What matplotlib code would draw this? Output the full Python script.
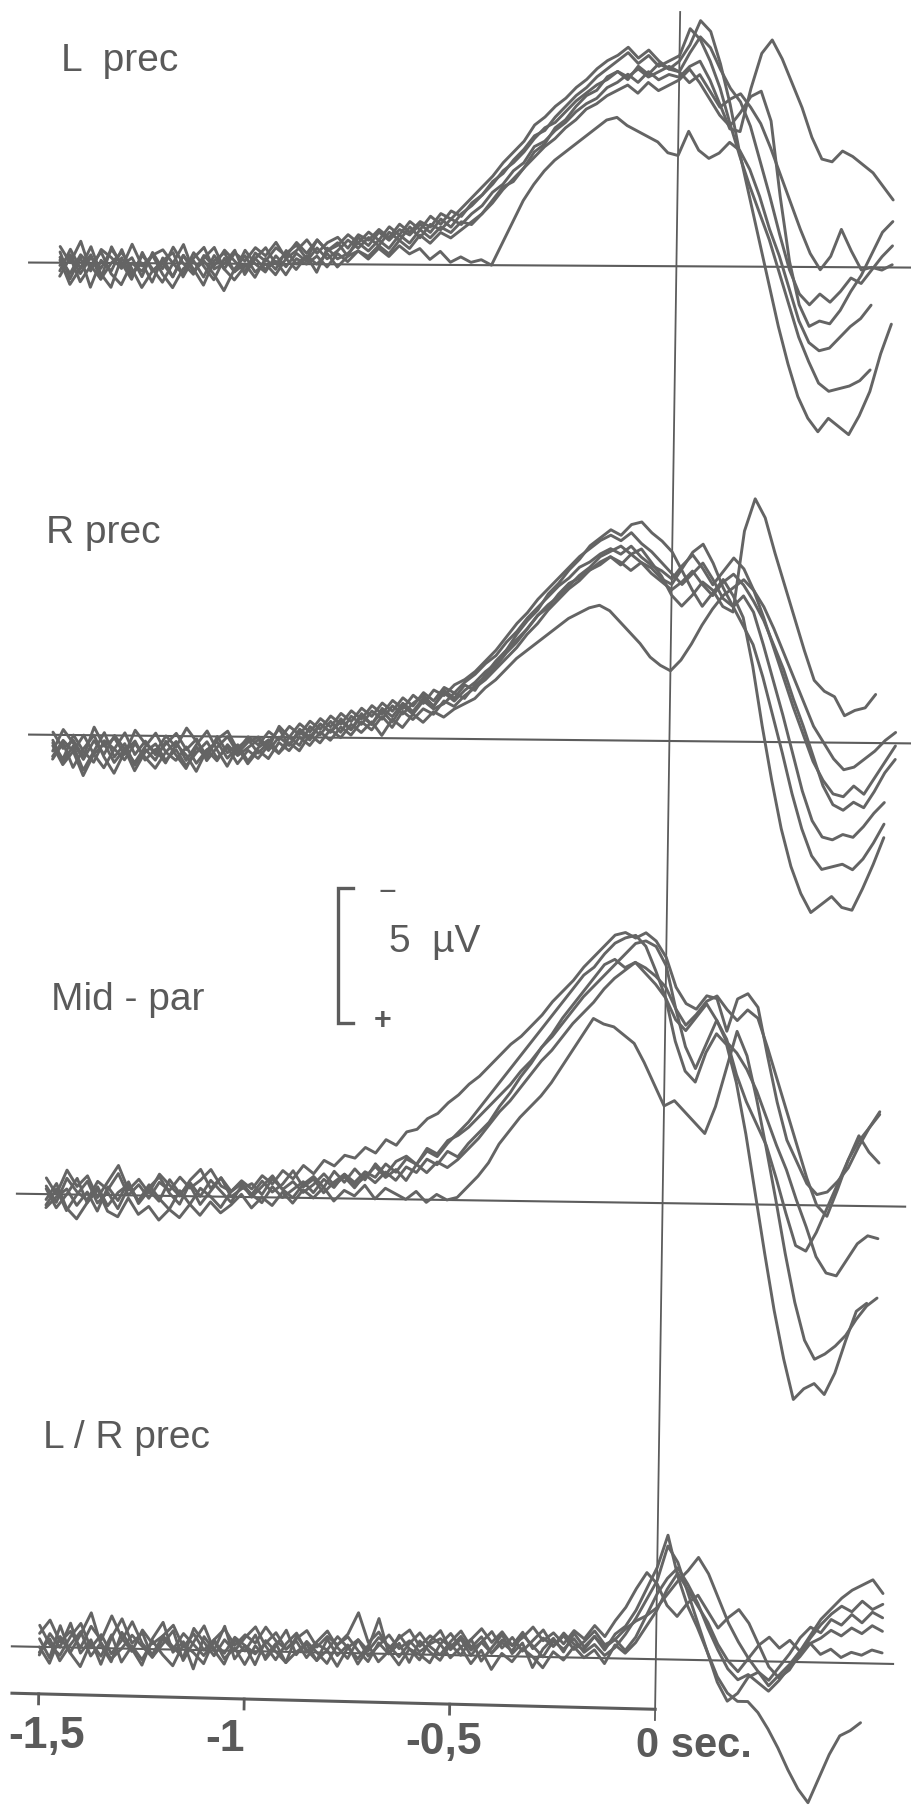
import numpy as np
import matplotlib
matplotlib.use("Agg")
import matplotlib.pyplot as plt
from matplotlib.transforms import Affine2D

# ---------------- data (µV, negativity drawn upward; one sample every 25 ms from -1.5 s) ----------------
panel_names = ["L  prec", "R prec", "Mid - par", "L / R prec"]
t_start = -1.5
t_step = 0.025
tick_values = [-1.5, -1.0, -0.5]
tick_labels = ["-1,5", "-1", "-0,5"]
zero_label = "0 sec."
scale_uv = 5
scale_label = "5  µV"

l_prec = [
    [0.4, -0.6, 0.2, -0.9, 0.1, -0.3, 0.5, -0.4, 0.0, -0.7,
     0.2, -0.5, 0.3, -0.2, -0.8, 0.1, 0.4, -0.3, 0.0, -0.5,
     0.2, -0.2, 0.5, 0.0, 0.3, -0.3, 0.6, 0.2, 0.4, 0.8,
     0.5, 0.9, 0.6, 1.1, 0.8, 1.3, 1.0, 1.4, 1.2, 1.6,
     1.5, 1.9, 2.4, 2.9, 3.1, 3.6, 4.2, 4.5, 5.1, 5.4,
     5.9, 6.3, 6.5, 7.0, 7.2, 6.9, 7.4, 7.1, 7.5, 7.3,
     7.6, 8.2, 9.1, 8.7, 7.5, 6.0, 4.2, 2.6, 1.0, -0.6,
     -2.2, -3.6, -4.8, -5.6, -6.1, -5.6, -5.9, -6.2, -5.5, -4.6,
     -3.2, -2.1],
    [-0.3, 0.5, -0.2, 0.3, -0.6, 0.6, -0.1, 0.2, -0.5, 0.4,
     -0.2, 0.6, 0.0, -0.4, 0.3, -0.1, 0.5, 0.1, -0.3, 0.4,
     0.1, 0.6, 0.3, 0.8, 0.4, 0.9, 0.5, 0.7, 1.1, 0.8,
     1.2, 0.9, 1.4, 1.1, 1.6, 1.3, 1.8, 1.5, 2.0, 1.8,
     2.3, 2.6, 3.1, 3.4, 3.9, 4.3, 4.8, 5.0, 5.5, 5.9,
     6.3, 6.6, 7.0, 7.3, 7.6, 7.9, 7.5, 7.8, 7.4, 7.6,
     7.8, 8.8, 8.4, 7.6, 6.6, 5.3, 4.1, 3.0, 2.0, 1.0,
     -0.2, -1.4, -2.6, -3.5, -4.3, -4.6, -4.5, -4.4, -4.2, -3.8],
    [0.1, -0.8, -0.2, 0.6, -0.4, -0.9, 0.2, -0.5, 0.3, -0.2,
     -0.7, 0.0, -0.4, 0.4, -0.1, -0.6, 0.2, -0.3, 0.5, 0.0,
     -0.3, 0.3, -0.1, 0.4, 0.1, 0.6, 0.2, 0.5, 0.9, 0.6,
     1.0, 0.7, 1.2, 0.9, 1.4, 1.0, 1.5, 1.3, 1.7, 1.5,
     1.9, 2.2, 2.7, 3.0, 3.5, 3.8, 4.4, 4.6, 5.0, 5.3,
     5.7, 6.0, 6.2, 6.6, 6.8, 7.1, 6.8, 7.2, 6.9, 7.1,
     7.0, 7.4, 7.6, 6.9, 6.0, 5.1, 5.0, 6.6, 7.9, 8.4,
     7.7, 6.8, 5.9, 4.8, 4.0, 3.9, 4.3, 4.1, 3.8, 3.5,
     3.0, 2.5],
    [-0.5, 0.2, -0.7, -0.1, 0.4, -0.4, -0.8, 0.0, -0.3, 0.3,
     -0.4, -0.9, -0.2, 0.1, -0.5, 0.3, -0.2, -0.6, -0.1, 0.2,
     -0.2, 0.1, -0.4, 0.2, 0.0, 0.3, -0.1, 0.4, 0.1, 0.5,
     0.3, 0.7, 0.4, 0.9, 0.6, 1.1, 0.8, 1.2, 1.0, 1.3,
     1.6, 1.9, 2.3, 2.8, 3.2, 3.6, 4.0, 4.4, 4.7, 5.1,
     5.4, 5.8, 6.0, 6.3, 6.5, 6.7, 6.4, 6.8, 6.5, 6.7,
     6.9, 7.3, 6.8, 6.2, 5.6, 5.2, 5.7, 6.3, 6.5, 5.4,
     2.6, 0.2, -1.4, -2.2, -2.0, -2.1, -1.6, -0.9, -0.3, 0.5,
     1.3, 1.7],
    [0.6, 0.0, 0.8, -0.3, 0.5, 0.2, -0.2, 0.7, -0.1, 0.3,
     0.5, 0.0, 0.7, -0.3, 0.2, 0.6, -0.2, 0.4, 0.1, 0.6,
     0.3, 0.8, 0.2, 0.5, 0.9, 0.4, 0.8, 1.0, 0.6, 1.1,
     0.9, 1.3, 1.0, 1.5, 1.2, 1.6, 1.4, 1.9, 1.7, 2.1,
     2.5, 2.9, 3.3, 3.8, 4.2, 4.6, 5.2, 5.5, 5.9, 6.2,
     6.6, 6.9, 7.3, 7.6, 7.8, 8.1, 7.7, 8.0, 7.6, 7.3,
     7.2, 7.9, 8.5, 8.1, 7.3, 6.6, 6.1, 5.2, 3.9, 2.6,
     1.2, -0.1, -1.0, -1.4, -1.0, -1.3, -0.9, -0.4, -0.6, -0.1,
     0.4, 0.8],
    [-0.1, 0.3, -0.4, 0.2, -0.2, 0.5, 0.0, -0.6, 0.4, -0.3,
     0.1, 0.4, -0.5, 0.2, 0.6, -0.2, 0.0, 0.5, -0.4, 0.2,
     0.6, 0.0, 0.4, 0.7, 0.2, 0.9, 0.5, 0.8, 0.3, 1.0,
     0.7, 1.2, 0.9, 1.3, 1.1, 1.5, 1.2, 1.7, 1.4, 1.9,
     2.2, 2.6, 3.0, 3.5, 3.8, 4.2, 4.7, 5.1, 5.3, 5.7,
     6.1, 6.4, 6.7, 6.9, 7.2, 7.0, 7.3, 7.0, 7.2, 7.4,
     7.2, 6.8, 7.1, 6.5, 5.9, 6.2, 6.4, 5.9, 5.3, 4.4,
     3.4, 2.4, 1.4, 0.5, -0.1, 0.4, 1.4, 0.6, -0.1, 0.0,
     -0.1, 0.1],
    [0.2, -0.4, 0.3, -0.1, -0.6, 0.0, 0.4, -0.2, -0.9, -0.3,
     0.0, -0.5, 0.3, -0.3, 0.1, -0.4, -1.0, -0.2, 0.3, -0.3,
     0.0, -0.4, 0.2, -0.2, 0.3, 0.0, 0.4, -0.1, 0.3, 0.5,
     0.2, 0.6, 0.3, 0.7, 0.4, 0.6, 0.2, 0.5, 0.1, 0.3,
     0.1, 0.2, 0.0, 0.8, 1.6, 2.4, 3.0, 3.5, 3.9, 4.2,
     4.5, 4.8, 5.1, 5.4, 5.5, 5.2, 5.0, 4.8, 4.6, 4.2,
     4.1, 5.0, 4.3, 4.0, 4.2, 4.6, 4.3, 3.6, 2.6, 1.4,
     0.4, -0.8, -2.0, -2.8, -3.1, -3.0, -2.6, -2.2, -1.9, -1.4],
]

r_prec = [
    [-0.2, -1.0, -0.4, -1.3, -0.6, 0.1, -0.8, -0.3, -1.1, -0.5,
     -0.9, -0.2, -0.7, -1.2, -0.4, -0.8, 0.0, -0.6, -0.3, -0.9,
     -0.4, -0.1, -0.6, 0.0, -0.3, 0.4, 0.1, 0.6, 0.2, 0.8,
     0.5, 1.0, 0.7, 1.2, 0.9, 1.3, 1.6, 1.2, 1.8, 1.5,
     2.0, 1.8, 2.4, 2.9, 3.3, 3.9, 4.4, 4.8, 5.4, 5.8,
     6.3, 6.7, 7.2, 7.5, 7.8, 7.6, 8.0, 8.1, 7.7, 7.4,
     7.0, 6.3, 5.6, 5.0, 5.5, 6.0, 5.4, 4.6, 2.8, 0.6,
     -1.4, -3.2, -4.6, -5.6, -6.3, -6.0, -5.7, -6.1, -6.2, -5.4,
     -4.5, -3.5],
    [-0.6, 0.2, -0.3, -0.9, -0.2, -0.7, 0.0, -0.5, -1.0, -0.4,
     0.1, -0.6, -0.2, -0.9, -0.3, 0.2, -0.5, -1.1, -0.4, -0.1,
     -0.6, -0.2, 0.3, -0.3, 0.2, -0.1, 0.5, 0.2, 0.7, 0.3,
     0.8, 0.5, 1.0, 0.6, 1.2, 0.9, 1.4, 1.1, 1.3, 1.7,
     1.5, 2.0, 2.3, 2.7, 3.2, 3.6, 4.1, 4.6, 5.0, 5.3,
     5.7, 6.1, 6.4, 6.8, 7.0, 7.2, 6.9, 7.1, 6.6, 6.1,
     5.4, 5.0, 5.4, 5.9, 5.6, 5.0, 4.8, 7.8, 9.0, 8.3,
     7.0, 5.8, 4.6, 3.4, 2.3, 1.9, 1.7, 1.0, 1.2, 1.3,
     1.8],
    [-0.9, -0.3, -1.2, -0.5, 0.0, -0.8, -1.4, -0.6, -0.2, -0.9,
     -0.5, -1.0, -0.3, -0.7, -1.3, -0.5, -0.2, -0.8, -0.4, -1.0,
     -0.5, -0.8, -0.2, -0.5, 0.0, -0.3, 0.2, -0.1, 0.4, 0.1,
     0.6, 0.3, 0.8, 0.4, 1.0, 0.7, 1.1, 0.9, 1.4, 1.2,
     1.6, 1.9, 2.2, 2.6, 3.0, 3.4, 3.9, 4.3, 4.8, 5.2,
     5.6, 5.9, 6.3, 6.5, 6.8, 6.5, 6.9, 6.6, 6.4, 6.0,
     5.8, 6.4, 7.0, 7.3, 6.6, 5.7, 5.0, 4.3, 3.6, 2.4,
     1.0, -0.4, -1.9, -3.2, -4.2, -4.7, -4.6, -4.5, -4.7, -4.3,
     -3.7, -3.0],
    [0.1, -0.5, -0.2, -0.8, 0.3, -0.4, -0.1, -0.7, 0.2, -0.3,
     -0.6, 0.0, -0.4, 0.3, -0.2, -0.7, -0.1, 0.2, -0.5, 0.0,
     -0.3, 0.2, -0.1, 0.4, 0.1, 0.6, 0.3, 0.8, 0.5, 1.0,
     0.7, 1.2, 0.9, 1.4, 1.1, 1.6, 1.3, 1.8, 1.6, 2.0,
     2.2, 2.5, 2.9, 3.3, 3.8, 4.3, 4.7, 5.2, 5.6, 6.0,
     6.4, 6.8, 7.1, 7.4, 7.6, 7.4, 7.7, 7.3, 7.0, 6.6,
     6.2, 5.8, 6.2, 6.6, 6.0, 5.3, 5.0, 5.4, 4.8, 3.6,
     2.3, 1.0, -0.4, -1.8, -2.9, -3.5, -3.6, -3.4, -3.5, -3.1,
     -2.6, -2.2],
    [-0.4, -1.1, -0.6, 0.0, -0.7, -1.2, -0.5, -0.9, -0.3, -0.8,
     -1.2, -0.6, -0.9, -0.4, -1.0, -0.5, -0.9, -0.3, -0.7, -0.4,
     -0.1, -0.5, 0.0, -0.3, 0.3, 0.0, 0.5, 0.2, 0.6, 0.3,
     0.9, 0.5, 1.1, 0.8, 1.3, 1.0, 1.5, 1.2, 1.7, 1.4,
     1.8, 2.1, 2.5, 2.8, 3.3, 3.7, 4.1, 4.6, 4.9, 5.4,
     5.8, 6.0, 6.3, 6.6, 6.8, 6.6, 6.3, 6.6, 6.2, 5.9,
     5.6, 5.9, 6.3, 5.8, 5.4, 5.9, 6.2, 5.8, 5.2, 4.5,
     3.6, 2.7, 1.6, 0.6, -0.5, -1.6, -2.3, -2.5, -2.2, -2.4,
     -1.8, -1.1, -0.6],
    [-0.8, -0.2, -0.6, -1.5, -0.7, -0.3, -1.0, -0.5, -1.3, -0.6,
     -0.3, -0.9, -0.5, -1.1, -0.6, -0.2, -0.8, -0.4, -1.0, -0.5,
     -0.8, -0.3, -0.6, -0.2, -0.5, 0.1, -0.2, 0.3, 0.0, 0.5,
     0.2, 0.6, 0.1, 0.7, 0.4, 0.9, 0.6, 1.0, 0.8, 1.1,
     1.3, 1.5, 1.9, 2.2, 2.6, 3.0, 3.3, 3.6, 3.9, 4.2,
     4.5, 4.7, 4.9, 5.0, 4.8, 4.4, 4.0, 3.6, 3.1, 2.8,
     2.6, 3.0, 3.6, 4.3, 4.9, 5.4, 5.7, 6.0, 5.6, 5.0,
     4.2, 3.3, 2.4, 1.5, 0.6, 0.0, -0.6, -1.0, -0.9, -0.6,
     -0.3, 0.1, 0.4],
    [-0.3, -0.9, 0.0, -0.6, -1.0, -0.2, -0.5, 0.1, -0.7, -0.2,
     -0.7, -0.3, 0.1, -0.5, -0.1, -0.9, -0.4, 0.0, -0.6, -0.2,
     0.0, -0.4, 0.4, 0.0, 0.5, 0.2, 0.7, 0.4, 0.9, 0.6,
     1.1, 0.8, 1.3, 1.0, 1.5, 1.2, 1.7, 1.4, 1.9, 1.7,
     2.1, 2.4, 2.8, 3.1, 3.6, 4.0, 4.5, 4.9, 5.3, 5.7,
     6.0, 6.4, 6.6, 6.9, 7.1, 6.9, 7.2, 6.8, 6.5, 6.3,
     6.0, 6.5, 6.9, 6.4, 5.8, 6.3, 6.8, 6.4, 5.6, 4.6,
     3.5, 2.4, 1.3, 0.3, -0.7, -1.4, -1.9, -2.0, -1.6, -1.9,
     -1.3, -0.7, -0.1],
]

mid_par = [
    [0.3, -0.3, 0.6, 0.1, -0.2, 0.5, 0.2, 0.8, 0.0, 0.4,
     -0.1, 0.5, 0.2, 0.7, 0.3, 0.6, 1.0, 0.4, 0.2, 0.6,
     0.3, 0.8, 0.5, 1.0, 0.7, 1.2, 0.9, 1.4, 1.2, 1.6,
     1.5, 1.9, 1.7, 2.2, 2.0, 2.5, 2.6, 3.0, 3.2, 3.6,
     3.9, 4.3, 4.6, 5.0, 5.4, 5.8, 6.1, 6.5, 6.9, 7.4,
     7.8, 8.2, 8.7, 9.1, 9.5, 9.9, 10.0, 9.8, 10.0, 9.7,
     9.1, 8.0, 7.4, 7.2, 7.7, 7.6, 6.4, 7.6, 7.8, 7.3,
     5.5, 3.8, 2.4, 1.6, 0.8, 0.4, 0.5, 0.9, 1.4, 2.2,
     2.9, 3.5],
    [-0.4, 0.2, -0.6, 0.0, 0.5, -0.3, 0.1, -0.5, 0.3, -0.2,
     0.4, -0.1, -0.5, 0.2, -0.3, 0.3, 0.0, -0.4, 0.2, 0.5,
     0.1, -0.2, 0.4, 0.0, 0.3, 0.6, 0.2, 0.7, 0.4, 0.9,
     0.6, 1.0, 0.8, 1.3, 1.0, 1.5, 1.3, 1.8, 1.6, 2.1,
     2.5, 2.9, 3.4, 3.9, 4.4, 4.9, 5.4, 5.9, 6.4, 6.9,
     7.4, 7.9, 8.4, 8.7, 9.2, 9.6, 9.8, 9.9, 9.5, 8.6,
     7.6, 6.0, 4.9, 4.5, 5.6, 6.3, 5.9, 4.5, 2.6, 0.4,
     -1.8, -3.9, -5.7, -7.2, -6.8, -6.6, -7.0, -6.2, -5.0, -3.9,
     -3.6],
    [-0.2, 0.4, -0.5, -0.9, -0.3, 0.2, -0.6, -0.8, -0.1, -0.7,
     -0.4, -0.9, -0.5, -0.8, -0.3, -0.7, -0.2, -0.6, -0.3, 0.1,
     -0.4, 0.0, -0.3, 0.2, -0.2, 0.3, 0.0, 0.4, -0.1, 0.3,
     0.1, 0.5, 0.0, 0.4, 0.2, 0.0, 0.3, -0.1, 0.2, 0.0,
     0.1, 0.5, 0.9, 1.4, 2.1, 2.6, 3.1, 3.5, 3.9, 4.4,
     5.0, 5.6, 6.2, 6.8, 6.6, 6.5, 6.2, 5.9, 5.2, 4.4,
     3.6, 3.8, 3.4, 3.0, 2.6, 3.6, 5.0, 6.4, 5.5, 3.9,
     2.1, 0.2, -1.8, -3.6, -5.0, -5.7, -5.5, -5.2, -4.8, -4.2,
     -3.7, -3.4],
    [0.6, 0.0, 0.9, 0.3, 0.7, -0.1, 0.5, 1.1, 0.2, 0.6,
     0.1, 0.8, 0.4, 0.0, 0.6, 1.0, 0.3, 0.7, 0.2, 0.5,
     0.0, 0.4, 0.8, 0.3, 0.6, 0.2, 0.5, 0.9, 0.5, 0.8,
     0.4, 0.9, 0.6, 1.0, 0.7, 1.2, 1.0, 1.5, 1.3, 1.8,
     1.6, 2.1, 2.5, 2.9, 3.5, 4.0, 4.6, 5.1, 5.7, 6.2,
     6.8, 7.3, 7.8, 8.3, 8.8, 9.0, 8.7, 8.9, 8.5, 8.1,
     7.6, 6.8, 6.4, 6.9, 7.4, 6.8, 6.0, 5.6, 5.0, 4.2,
     3.2, 2.2, 1.3, 0.2, -0.8, -1.9, -2.5, -2.6, -2.0, -1.4,
     -1.1, -1.2],
    [-0.5, -0.1, 0.2, -0.4, 0.1, -0.6, 0.3, -0.2, 0.5, -0.3,
     0.2, -0.2, 0.6, 0.1, 0.4, -0.3, 0.2, 0.7, 0.0, 0.3,
     0.5, 0.1, 0.7, 0.3, 0.0, 0.5, 0.8, 0.4, 1.0, 0.6,
     1.1, 0.7, 1.3, 0.9, 1.4, 1.6, 1.3, 1.9, 1.7, 2.2,
     2.4, 2.7, 3.1, 3.5, 3.9, 4.3, 4.8, 5.2, 5.7, 6.1,
     6.6, 7.1, 7.6, 8.0, 8.4, 8.8, 9.2, 9.6, 9.7, 9.5,
     8.8, 7.2, 5.8, 5.0, 5.9, 6.8, 6.1, 4.8, 3.8, 3.0,
     2.2, 1.0, -0.3, -1.5, -1.7, -1.0, -0.1, 0.8, 1.7, 2.4,
     2.9, 3.4],
    [0.2, -0.5, 0.0, 0.6, -0.3, 0.3, -0.4, 0.1, 0.4, -0.2,
     0.3, 0.7, 0.1, -0.3, 0.5, 0.0, 0.6, 0.2, -0.2, 0.4,
     0.1, 0.6, 0.2, 0.5, 1.0, 0.4, 0.7, 0.2, 0.6, 0.9,
     0.5, 0.8, 1.2, 0.8, 1.1, 0.7, 1.3, 1.0, 1.4, 1.2,
     1.5, 1.9, 2.3, 2.8, 3.3, 3.7, 4.2, 4.7, 5.2, 5.6,
     6.1, 6.6, 7.0, 7.4, 7.9, 8.3, 8.6, 8.9, 8.7, 8.4,
     8.0, 7.2, 6.6, 7.0, 7.5, 7.7, 7.2, 6.8, 7.2, 6.9,
     5.8, 4.6, 3.4, 2.2, 1.0, 0.0, -0.4, 0.6, 1.7, 2.6,
     2.0, 1.6],
]

lr_prec = [
    [0.3, -0.4, 0.8, -0.2, 0.5, 1.3, 0.1, -0.5, 0.6, 0.0,
     -0.6, 0.4, 1.0, -0.1, 0.3, -0.7, 0.5, 0.0, 0.9, -0.3,
     0.2, -0.5, 0.4, 0.0, -0.4, 0.6, 0.1, -0.3, 0.5, -0.1,
     0.3, -0.4, 0.2, 1.3, 0.0, 0.4, -0.3, 0.5, 0.1, -0.2,
     0.4, 0.0, 0.6, -0.2, 0.3, 0.8, 0.1, 0.5, -0.4, 0.3,
     0.7, 0.2, 0.9, 0.4, 0.8, 0.3, 0.9, 1.2, 1.8, 2.6,
     3.4, 4.6, 3.1, 2.0, 1.2, 0.3, -0.6, -1.2, -1.5, -1.5,
     -1.9, -2.5, -3.2, -4.0, -4.7, -5.2, -4.3, -3.4, -2.7, -2.5,
     -2.2],
    [-0.3, 0.5, 0.0, 0.9, -0.2, 0.3, -0.6, 0.4, 1.1, 0.2,
     0.6, -0.3, 0.2, 0.7, -0.4, 0.3, 0.9, 0.0, -0.5, 0.4,
     0.0, 0.6, -0.3, 0.2, 0.8, -0.1, 0.4, 0.0, -0.4, 0.3,
     0.6, 0.1, -0.3, 0.4, 0.0, 0.7, 0.2, -0.2, 0.5, 0.9,
     0.2, 0.6, 0.0, 0.5, 0.9, 0.3, 0.7, 0.2, 0.6, 1.0,
     0.4, 0.8, 0.3, 0.6, 1.0, 0.5, 0.7, 1.1, 1.4, 1.6,
     1.9, 2.4, 2.9, 3.3, 3.8, 3.2, 2.3, 1.4, 0.7, 0.1,
     -0.4, -0.9, -0.5, -0.1, 0.4, 1.0, 1.6, 2.0, 2.4, 2.7,
     2.9, 3.1, 2.6],
    [0.8, 0.1, -0.3, 0.4, 0.9, 0.0, 0.5, -0.2, 0.3, 1.0,
     0.2, -0.2, 0.5, 0.1, -0.3, 0.8, 0.3, -0.2, 0.4, 0.0,
     0.5, 0.9, 0.2, -0.3, 0.3, 0.7, 0.0, 0.4, 0.8, 0.2,
     -0.2, 0.5, 0.1, 0.6, 0.3, -0.1, 0.4, 0.8, 0.3, 0.0,
     0.5, 0.9, 0.3, 0.7, 0.1, 0.5, 0.2, 0.8, 0.4, 0.0,
     0.6, 0.3, 0.7, 0.2, 0.5, 0.1, 0.4, 0.9, 1.5, 2.2,
     2.9, 4.2, 3.6, 2.5, 1.4, 0.3, -0.8, -1.5, -1.2, -0.6,
     -0.4, -0.7, -0.2, 0.3, 0.9, 1.3, 1.1, 1.6, 1.4, 1.8,
     1.5, 1.9, 1.7],
    [0.0, -0.6, 0.4, -0.2, -0.7, 0.2, -0.3, 0.5, -0.5, 0.1,
     -0.4, 0.3, -0.2, -0.6, 0.2, -0.1, -0.5, 0.4, -0.3, 0.1,
     -0.5, 0.2, -0.2, 0.3, -0.4, 0.0, 0.3, -0.3, 0.1, -0.5,
     0.2, -0.2, 0.3, -0.3, 0.1, -0.4, 0.2, 0.0, -0.3, 0.4,
     -0.1, 0.3, -0.3, 0.2, -0.5, 0.1, -0.2, 0.3, 0.0, -0.4,
     0.2, -0.1, 0.4, 0.0, 0.3, -0.2, 0.5, 0.2, 0.6, 1.2,
     1.8, 2.6, 3.2, 2.6, 2.0, 1.4, 0.6, 0.0, -0.4, 0.1,
     0.6, 0.9, 0.5, 0.8, 0.4, 0.7, 0.3, 0.5, 0.2, 0.4,
     0.3, 0.5, 0.4],
    [0.5, 1.0, 0.2, 0.6, 0.0, 0.8, 0.3, 1.2, 0.4, -0.1,
     0.7, 0.2, 0.5, 0.9, 0.1, 0.6, 0.0, 0.4, 0.8, 0.2,
     0.6, 0.3, 0.9, 0.4, 0.1, 0.5, 0.8, 0.2, 0.6, 0.3,
     0.7, 1.5, 0.4, 0.8, 0.2, 0.6, 0.9, 0.3, 0.7, 0.4,
     0.8, 0.3, 0.6, 1.0, 0.5, 0.9, 0.4, 0.7, 1.1, 0.6,
     0.9, 0.5, 1.0, 0.7, 1.2, 0.8, 1.4, 1.9, 2.6, 3.2,
     2.8, 2.0, 1.6, 2.1, 2.4, 1.8, 1.2, 1.6, 1.9, 1.4,
     0.6, -0.2, -0.6, -0.3, 0.3, 0.9, 1.4, 1.8, 2.1, 1.9,
     2.3, 2.0, 2.2],
    [-0.2, 0.3, -0.5, 0.1, 0.6, -0.3, 0.2, -0.4, 0.0, 0.5,
     0.1, -0.3, 0.4, 0.0, 0.6, 0.2, -0.2, 0.3, -0.1, 0.5,
     0.2, -0.1, 0.3, 0.7, 0.1, 0.4, -0.2, 0.3, 0.1, 0.6,
     0.2, 0.5, -0.1, 0.3, 0.7, 0.2, 0.5, 0.1, 0.4, 0.6,
     0.3, 0.7, 0.2, 0.5, 0.1, 0.6, 0.4, 0.9, 0.3, 0.7,
     0.4, 0.9, 0.5, 0.3, 0.8, 0.4, 0.7, 0.3, 0.8, 1.6,
     2.4, 3.0, 3.4, 2.8, 2.1, 1.2, 0.4, -0.3, -0.7, -0.5,
     -0.8, -1.1, -0.7, -0.2, 0.2, 0.7, 0.9, 1.2, 1.0, 1.3,
     1.1, 1.4, 1.2],
]

panels = [l_prec, r_prec, mid_par, lr_prec]

# ---------------- layout ----------------
W, H, DPI = 912, 1807, 100
PX_PER_S, PX_PER_UV = 411.0, 27.0
X0 = 667.0                      # pixel column of t = 0 at mid-height
XC, YC = 456.0, 903.5           # shear centre (pixels)
SKEW_X = 0.01476                # vertical lines lean right towards the top
panel_offsets = [57.11, 39.56, 22.48, 5.63]      # µV height of each baseline
panel_tilts = [0.0057, 0.010, 0.0146, 0.020]     # baselines fall to the right
baseline_spans = [(-1.575, 0.60), (-1.558, 0.60), (-1.571, 0.590), (-1.567, 0.577)]
label_pos = [(61, 71), (46, 543), (51, 1010), (43, 1448)]  # pixels, text baseline

TRACE = "#646464"
LINE = "#5c5c5c"
TEXT = "#5a5a5a"
FONT = ["Liberation Sans", "DejaVu Sans"]

fig = plt.figure(figsize=(W / DPI, H / DPI), dpi=DPI)
fig.patch.set_facecolor("white")
ax = fig.add_axes([0, 0, 1, 1])
ax.set_axis_off()
ax.set_xlim(-X0 / PX_PER_S, (W - X0) / PX_PER_S)
ax.set_ylim(0, H / PX_PER_UV)


def sheared(m):
    M = np.array([[1.0, SKEW_X, -SKEW_X * YC],
                  [-m, 1.0, m * XC],
                  [0.0, 0.0, 1.0]])
    return ax.transData + Affine2D(M)


for p, traces in enumerate(panels):
    tr = sheared(panel_tilts[p])
    off = panel_offsets[p]
    ax.plot(baseline_spans[p], [off, off], color=LINE, lw=1.5, transform=tr, zorder=1)
    for vals in traces:
        v = np.asarray(vals, dtype=float)
        t = t_start + t_step * np.arange(len(v))
        ax.plot(t, off + v, color=TRACE, lw=2.1, transform=tr, zorder=2,
                solid_joinstyle="round", solid_capstyle="round")
    lx, ly = label_pos[p]
    fig.text(lx / W, 1 - ly / H, panel_names[p], fontsize=28, color=TEXT,
             family=FONT, ha="left", va="baseline")

# time-zero vertical line
ax.plot([0, 0], [87 / PX_PER_UV, 1795 / PX_PER_UV], color=LINE, lw=1.3,
        transform=sheared(0.0), zorder=1)

# time axis
axis_y = 103 / PX_PER_UV
tr_axis = sheared(0.025)
ax.plot([-1.565, 0.0], [axis_y, axis_y], color=LINE, lw=2.2, transform=tr_axis)
for tv in tick_values:
    ax.plot([tv, tv], [axis_y, axis_y - 10 / PX_PER_UV], color=LINE, lw=2.0,
            transform=tr_axis)
tr_lab = sheared(0.015)
lab_y = 53 / PX_PER_UV
label_shift = [0.021, -0.044, -0.012]
for tv, tl, dx in zip(tick_values, tick_labels, label_shift):
    ax.text(tv + dx, lab_y, tl, fontsize=32, color=TEXT, family=FONT,
            fontweight="bold", ha="center", va="baseline", transform=tr_lab)
ax.text(-0.045, lab_y, zero_label, fontsize=30, color=TEXT, family=FONT,
        fontweight="bold", ha="left", va="baseline", transform=tr_lab)

# 5 µV calibration bracket
sb_t = (338 - X0) / PX_PER_S
sb_top = (H - 888) / PX_PER_UV
arm = 15 / PX_PER_S
ax.plot([sb_t + arm, sb_t, sb_t, sb_t + arm],
        [sb_top, sb_top, sb_top - scale_uv, sb_top - scale_uv],
        color=LINE, lw=2.4, solid_joinstyle="miter")
fig.text(387 / W, 1 - 893 / H, "\u2212", fontsize=22, color=TEXT, family=FONT,
         ha="center", va="center")
fig.text(383 / W, 1 - 1021 / H, "+", fontsize=22, color=TEXT, family=FONT,
         fontweight="bold", ha="center", va="center")
fig.text(389 / W, 1 - 952 / H, scale_label, fontsize=28, color=TEXT, family=FONT,
         ha="left", va="baseline")

fig.savefig("out.png", dpi=DPI, facecolor="white")
